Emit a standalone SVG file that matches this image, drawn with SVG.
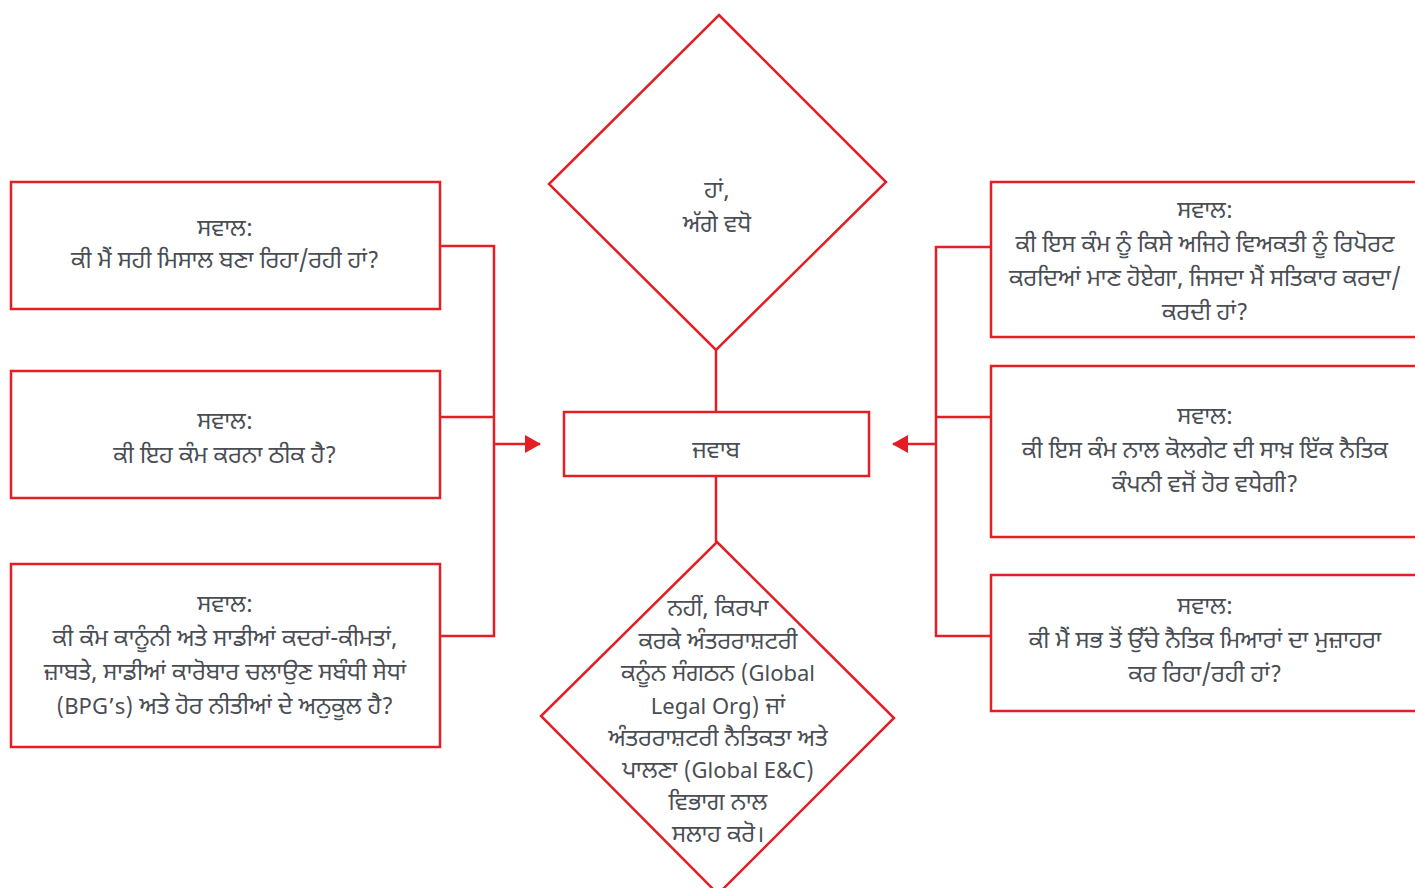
<svg xmlns="http://www.w3.org/2000/svg" width="1415" height="888" viewBox="0 0 1415 888">
<defs>
<style>
.box{fill:#fff;stroke:#e31e25;stroke-width:2.5}
.ln{fill:none;stroke:#e31e25;stroke-width:2.5}
.t{font-family:"Noto Sans Gurmukhi","Noto Sans","Liberation Sans",sans-serif;font-size:23.5px;fill:#4a4e54;text-anchor:middle}
.l{font-size:22px}
</style>
<marker id="ah" markerWidth="16" markerHeight="18" refX="15" refY="9" orient="auto" markerUnits="userSpaceOnUse">
<path d="M0,0 L16,9 L0,18 Z" fill="#e31e25"/>
</marker>
</defs>
<rect width="1415" height="888" fill="#fff"/>
<g id="connectors">
<polyline class="ln" points="440,246 494,246 494,636 440,636"/>
<line class="ln" x1="440" y1="417" x2="494" y2="417"/>
<line class="ln" x1="494" y1="444" x2="540" y2="444" marker-end="url(#ah)"/>
<polyline class="ln" points="991,247 936,247 936,636 991,636"/>
<line class="ln" x1="936" y1="417" x2="991" y2="417"/>
<line class="ln" x1="936" y1="444" x2="893" y2="444" marker-end="url(#ah)"/>
<line class="ln" x1="716" y1="350" x2="716" y2="412"/>
<line class="ln" x1="716" y1="476" x2="716" y2="542"/>
</g>
<g id="q1">
<rect class="box" x="11" y="182" width="429" height="127"/>
<text class="t" x="225" y="236">ਸਵਾਲ:</text>
<text class="t" x="225" y="268">ਕੀ ਮੈਂ ਸਹੀ ਮਿਸਾਲ ਬਣਾ ਰਿਹਾ/ਰਹੀ ਹਾਂ?</text>
</g>
<g id="q2">
<rect class="box" x="11" y="371" width="429" height="127"/>
<text class="t" x="225" y="429">ਸਵਾਲ:</text>
<text class="t" x="225" y="463">ਕੀ ਇਹ ਕੰਮ ਕਰਨਾ ਠੀਕ ਹੈ?</text>
</g>
<g id="q3">
<rect class="box" x="11" y="564" width="429" height="183"/>
<text class="t" x="225" y="612">ਸਵਾਲ:</text>
<text class="t" x="225" y="646">ਕੀ ਕੰਮ ਕਾਨੂੰਨੀ ਅਤੇ ਸਾਡੀਆਂ ਕਦਰਾਂ-ਕੀਮਤਾਂ,</text>
<text class="t" x="225" y="680">ਜ਼ਾਬਤੇ, ਸਾਡੀਆਂ ਕਾਰੋਬਾਰ ਚਲਾਉਣ ਸਬੰਧੀ ਸੇਧਾਂ</text>
<text class="t" x="225" y="714"><tspan class="l">(BPG’s)</tspan> ਅਤੇ ਹੋਰ ਨੀਤੀਆਂ ਦੇ ਅਨੁਕੂਲ ਹੈ?</text>
</g>
<g id="yes">
<polygon class="box" points="719,15 886,182 716,350 549,184"/>
<text class="t" x="717" y="198">ਹਾਂ,</text>
<text class="t" x="717" y="232">ਅੱਗੇ ਵਧੋ</text>
</g>
<g id="answer">
<rect class="box" x="564" y="412" width="305" height="64"/>
<text class="t" x="716" y="458">ਜਵਾਬ</text>
</g>
<g id="no">
<polygon class="box" points="717,542 894,718 718,894 541,716"/>
<text class="t" x="718" y="616">ਨਹੀਂ, ਕਿਰਪਾ</text>
<text class="t" x="718" y="649">ਕਰਕੇ ਅੰਤਰਰਾਸ਼ਟਰੀ</text>
<text class="t" x="718" y="681">ਕਨੂੰਨ ਸੰਗਠਨ <tspan class="l">(Global</tspan></text>
<text class="t" x="718" y="714"><tspan class="l">Legal Org)</tspan> ਜਾਂ</text>
<text class="t" x="718" y="746">ਅੰਤਰਰਾਸ਼ਟਰੀ ਨੈਤਿਕਤਾ ਅਤੇ</text>
<text class="t" x="718" y="778">ਪਾਲਣਾ <tspan class="l">(Global E&amp;C)</tspan></text>
<text class="t" x="718" y="810">ਵਿਭਾਗ ਨਾਲ</text>
<text class="t" x="718" y="842">ਸਲਾਹ ਕਰੋ।</text>
</g>
<g id="q4">
<rect class="box" x="991" y="182" width="440" height="155"/>
<text class="t" x="1205" y="218">ਸਵਾਲ:</text>
<text class="t" x="1205" y="252">ਕੀ ਇਸ ਕੰਮ ਨੂੰ ਕਿਸੇ ਅਜਿਹੇ ਵਿਅਕਤੀ ਨੂੰ ਰਿਪੋਰਟ</text>
<text class="t" x="1205" y="286">ਕਰਦਿਆਂ ਮਾਣ ਹੋਏਗਾ, ਜਿਸਦਾ ਮੈਂ ਸਤਿਕਾਰ ਕਰਦਾ/</text>
<text class="t" x="1205" y="320">ਕਰਦੀ ਹਾਂ?</text>
</g>
<g id="q5">
<rect class="box" x="991" y="366" width="440" height="171"/>
<text class="t" x="1205" y="424">ਸਵਾਲ:</text>
<text class="t" x="1205" y="458">ਕੀ ਇਸ ਕੰਮ ਨਾਲ ਕੋਲਗੇਟ ਦੀ ਸਾਖ਼ ਇੱਕ ਨੈਤਿਕ</text>
<text class="t" x="1205" y="492">ਕੰਪਨੀ ਵਜੋਂ ਹੋਰ ਵਧੇਗੀ?</text>
</g>
<g id="q6">
<rect class="box" x="991" y="575" width="440" height="136"/>
<text class="t" x="1205" y="614">ਸਵਾਲ:</text>
<text class="t" x="1205" y="648">ਕੀ ਮੈਂ ਸਭ ਤੋਂ ਉੱਚੇ ਨੈਤਿਕ ਮਿਆਰਾਂ ਦਾ ਮੁਜ਼ਾਹਰਾ</text>
<text class="t" x="1205" y="682">ਕਰ ਰਿਹਾ/ਰਹੀ ਹਾਂ?</text>
</g>
</svg>
